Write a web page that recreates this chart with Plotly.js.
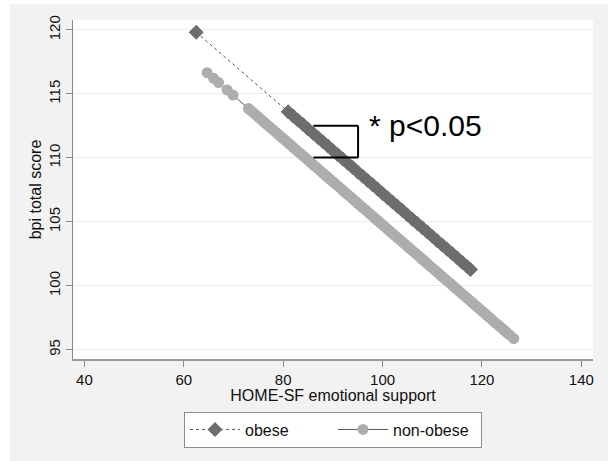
<!DOCTYPE html>
<html>
<head>
<meta charset="utf-8">
<script src="https://cdn.plot.ly/plotly-3.0.1.min.js"></script>
<style>
html,body{margin:0;padding:0;background:#ffffff;}
#chart{position:absolute;left:10px;top:4px;width:598px;height:457px;}
</style>
</head>
<body>
<div id="chart"></div>
<script>
// Obese group: HOME-SF emotional support (x) and predicted bpi total score (y)
var obeseX = [62.5, 81, 82, 83, 84, 85, 86, 87, 88, 89, 90, 91, 92, 93, 94, 95, 96, 97, 98, 99, 100,
  101, 102, 103, 104, 105, 106, 107, 108, 109, 110, 111, 112, 113, 114, 115, 116, 117, 117.7];
var obeseY = [119.82, 113.60, 113.27, 112.93, 112.60, 112.26, 111.92, 111.59, 111.25, 110.92, 110.58,
  110.24, 109.91, 109.57, 109.24, 108.90, 108.56, 108.23, 107.89, 107.56, 107.22,
  106.88, 106.55, 106.21, 105.88, 105.54, 105.20, 104.87, 104.53, 104.20, 103.86,
  103.52, 103.19, 102.85, 102.52, 102.18, 101.84, 101.51, 101.27];

// Non-obese group
var nonObeseX = [64.7, 66, 67, 68.7, 69.9,
  73, 73.5, 74, 74.5, 75, 75.5, 76, 76.5, 77, 77.5, 78, 78.5, 79, 79.5, 80, 80.5,
  81, 81.5, 82, 82.5, 83, 83.5, 84, 84.5, 85, 85.5, 86, 86.5, 87, 87.5, 88, 88.5,
  89, 89.5, 90, 90.5, 91, 91.5, 92, 92.5, 93, 93.5, 94, 94.5, 95, 95.5, 96, 96.5,
  97, 97.5, 98, 98.5, 99, 99.5, 100, 100.5, 101, 101.5, 102, 102.5, 103, 103.5,
  104, 104.5, 105, 105.5, 106, 106.5, 107, 107.5, 108, 108.5, 109, 109.5, 110, 110.5,
  111, 111.5, 112, 112.5, 113, 113.5, 114, 114.5, 115, 115.5, 116, 116.5, 117, 117.5,
  118, 118.5, 119, 119.5, 120, 120.5, 121, 121.5, 122, 122.5, 123, 123.5, 124, 124.5,
  125, 125.6, 126.4];
var nonObeseY = [116.66, 116.22, 115.89, 115.31, 114.91,
  113.86, 113.69, 113.53, 113.36, 113.19, 113.02, 112.85, 112.68, 112.52, 112.35, 112.18, 112.01, 111.84, 111.67, 111.50, 111.34,
  111.17, 111.00, 110.83, 110.66, 110.49, 110.32, 110.16, 109.99, 109.82, 109.65, 109.48, 109.31, 109.15, 108.98, 108.81, 108.64,
  108.47, 108.30, 108.13, 107.97, 107.80, 107.63, 107.46, 107.29, 107.12, 106.96, 106.79, 106.62, 106.45, 106.28, 106.11, 105.95,
  105.78, 105.61, 105.44, 105.27, 105.10, 104.93, 104.76, 104.60, 104.43, 104.26, 104.09, 103.92, 103.75, 103.59,
  103.42, 103.25, 103.08, 102.91, 102.74, 102.58, 102.41, 102.24, 102.07, 101.90, 101.73, 101.56, 101.39, 101.23,
  101.06, 100.89, 100.72, 100.55, 100.38, 100.22, 100.05, 99.88, 99.71, 99.54, 99.37, 99.21, 99.04, 98.87,
  98.70, 98.53, 98.36, 98.19, 98.02, 97.86, 97.69, 97.52, 97.35, 97.18, 97.01, 96.85, 96.68, 96.51,
  96.34, 96.14, 95.87];

var seriesNames = ["obese", "non-obese"];
var xTicks = [40, 60, 80, 100, 120, 140];
var yTicks = [95, 100, 105, 110, 115, 120];

// Significance bracket and label
var bracketX = [86.08, 95.07];
var bracketY = [110.02, 112.52];
var sigLabel = "* p<0.05";

var FONT = "Liberation Sans, Arial, sans-serif";

var traces = [
  {
    x: nonObeseX, y: nonObeseY, name: seriesNames[1], type: "scatter", mode: "lines+markers",
    line: {color: "#555555", width: 1},
    marker: {symbol: "circle", size: 11, color: "#adadad"}
  },
  {
    x: obeseX, y: obeseY, name: seriesNames[0], type: "scatter", mode: "lines+markers",
    line: {color: "#555555", width: 1, dash: "dot"},
    marker: {symbol: "diamond", size: 11.5, color: "#6d6d6d"}
  }
];

var layout = {
  width: 598, height: 457,
  margin: {l: 62.7, r: 15.3, t: 16, b: 101.7},
  paper_bgcolor: "#f2f2f2",
  plot_bgcolor: "#ffffff",
  font: {family: FONT, size: 15, color: "#111111"},
  showlegend: true,
  legend: {
    orientation: "h", x: 0.5, xanchor: "center", y: -0.155, yanchor: "top",
    bgcolor: "#ffffff", bordercolor: "#8c8c8c", borderwidth: 1,
    font: {family: FONT, size: 16, color: "#111111"},
    traceorder: "reversed",
    itemwidth: 50,
    entrywidth: 83
  },
  xaxis: {
    range: [37.7, 142.35],
    tickvals: xTicks, ticktext: xTicks.map(String),
    ticks: "outside", ticklen: 6, tickcolor: "#8a8a8a", tickwidth: 1,
    showline: true, linecolor: "#9a9a9a", linewidth: 1.5,
    showgrid: false, zeroline: false,
    tickfont: {family: FONT, size: 15, color: "#111111"},
    title: {text: "HOME-SF emotional support", font: {family: FONT, size: 16, color: "#111111"}, standoff: 2}
  },
  yaxis: {
    range: [94.27, 120.78],
    tickvals: yTicks, ticktext: yTicks.map(String),
    tickangle: -90,
    ticks: "outside", ticklen: 6, tickcolor: "#8a8a8a", tickwidth: 1,
    showline: true, linecolor: "#8a8a8a", linewidth: 1.5,
    showgrid: true, gridcolor: "#ececec", gridwidth: 1, zeroline: false,
    tickfont: {family: FONT, size: 15, color: "#111111"},
    title: {text: "bpi total score", font: {family: FONT, size: 16, color: "#111111"}, standoff: 0}
  },
  shapes: [
    {type: "line", xref: "x", yref: "y", x0: bracketX[0], x1: bracketX[1], y0: bracketY[1], y1: bracketY[1], line: {color: "#000000", width: 2}, layer: "above"},
    {type: "line", xref: "x", yref: "y", x0: bracketX[1], x1: bracketX[1], y0: bracketY[1], y1: bracketY[0], line: {color: "#000000", width: 2}, layer: "above"},
    {type: "line", xref: "x", yref: "y", x0: bracketX[0], x1: bracketX[1], y0: bracketY[0], y1: bracketY[0], line: {color: "#000000", width: 2}, layer: "above"}
  ],
  annotations: [
    {x: 96.9, y: 112.55, xref: "x", yref: "y", text: sigLabel, showarrow: false,
     xanchor: "left", yanchor: "middle", font: {family: FONT, size: 30, color: "#000000"}}
  ]
};

Plotly.newPlot("chart", traces, layout, {displayModeBar: false, staticPlot: true});
</script>
</body>
</html>
